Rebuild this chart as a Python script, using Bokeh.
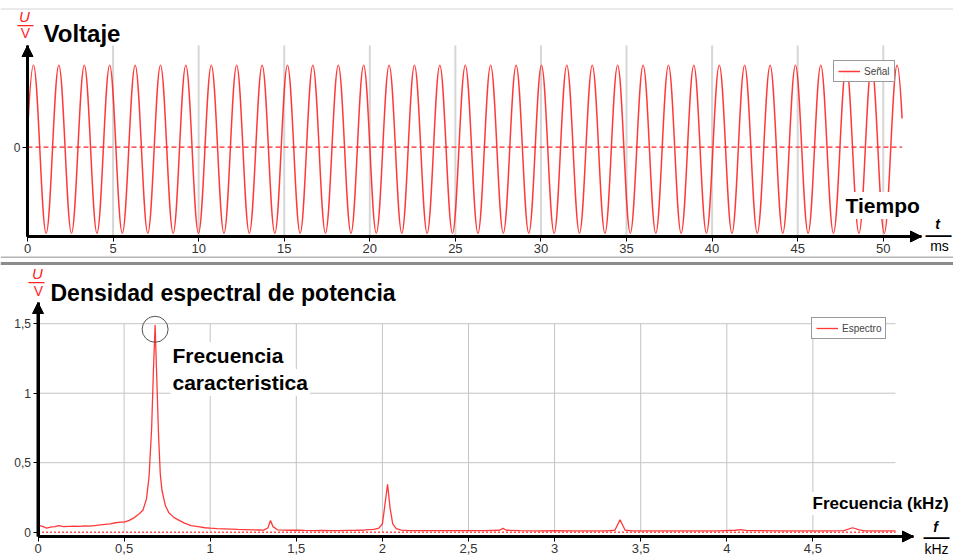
import numpy as np
from bokeh.plotting import figure
from bokeh.layouts import column
from bokeh.models import (FixedTicker, Label, Arrow, NormalHead, Legend, LegendItem,
                          Range1d, LinearAxis, Span, CustomJSTickFormatter)
from bokeh.embed import file_html
from bokeh.resources import INLINE

# ---------------- data: signal (top panel) ----------------
t_start_ms, v_start = 0.0, 0.16
peak_ms = [0.35, 1.83, 3.32, 4.80, 6.29, 7.77, 9.25, 10.74, 12.22, 13.71, 15.19, 16.67,
           18.16, 19.64, 21.13, 22.61, 24.09, 25.58, 27.06, 28.55, 30.03, 31.51, 33.00,
           34.48, 35.97, 37.45, 38.93, 40.42, 41.90, 43.39, 44.87, 46.35, 47.84, 49.32, 50.81]
trough_ms = [1.09, 2.57, 4.06, 5.54, 7.03, 8.51, 9.99, 11.48, 12.96, 14.45, 15.93, 17.41,
             18.90, 20.38, 21.87, 23.35, 24.83, 26.32, 27.80, 29.29, 30.77, 32.25, 33.74,
             35.22, 36.71, 38.19, 39.67, 41.16, 42.64, 44.13, 45.61, 47.09, 48.58, 50.06]
peak_level = 1.0
trough_level = -1.05
t_end_ms, v_end = 51.1, 0.35
time_ticks = [0, 5, 10, 15, 20, 25, 30, 35, 40, 45, 50]
time_tick_labels = ["0", "5", "10", "15", "20", "25", "30", "35", "40", "45", "50"]
volt_ticks = [0]
volt_tick_labels = ["0"]

# ---------------- data: spectrum (bottom panel) ----------------
freq_khz = [0.00, 0.01, 0.03, 0.05, 0.08, 0.10, 0.12, 0.15, 0.18, 0.21, 0.24, 0.27, 0.30,
            0.33, 0.36, 0.39, 0.42, 0.45, 0.48, 0.50, 0.53, 0.56, 0.59, 0.61, 0.63, 0.645,
            0.66, 0.67, 0.68, 0.69, 0.70, 0.71, 0.72, 0.74, 0.76, 0.79, 0.82, 0.85, 0.89,
            0.93, 0.97, 1.00, 1.04, 1.08, 1.12, 1.16, 1.20, 1.24, 1.28, 1.31, 1.335, 1.35,
            1.365, 1.39, 1.43, 1.47, 1.51, 1.55, 1.60, 1.65, 1.70, 1.75, 1.80, 1.85, 1.90,
            1.95, 1.98, 2.00, 2.015, 2.03, 2.045, 2.06, 2.08, 2.11, 2.15, 2.20, 2.30, 2.40,
            2.50, 2.60, 2.68, 2.70, 2.72, 2.80, 2.90, 3.00, 3.10, 3.20, 3.30, 3.35, 3.38,
            3.41, 3.45, 3.55, 3.65, 3.75, 3.85, 3.95, 4.05, 4.08, 4.12, 4.20, 4.30, 4.40,
            4.50, 4.60, 4.68, 4.73, 4.77, 4.80, 4.90, 4.98]
psd = [0.035, 0.048, 0.040, 0.030, 0.038, 0.040, 0.048, 0.040, 0.042, 0.044, 0.042, 0.046,
       0.044, 0.048, 0.052, 0.056, 0.060, 0.068, 0.072, 0.072, 0.085, 0.105, 0.135, 0.16,
       0.24, 0.40, 0.75, 1.15, 1.49, 1.10, 0.70, 0.42, 0.30, 0.19, 0.14, 0.105, 0.085,
       0.065, 0.048, 0.040, 0.032, 0.029, 0.026, 0.024, 0.022, 0.020, 0.019, 0.017, 0.016,
       0.015, 0.030, 0.085, 0.040, 0.017, 0.015, 0.014, 0.015, 0.013, 0.012, 0.013, 0.012,
       0.012, 0.013, 0.014, 0.016, 0.020, 0.030, 0.06, 0.20, 0.345, 0.17, 0.06, 0.025,
       0.015, 0.012, 0.012, 0.011, 0.012, 0.011, 0.012, 0.014, 0.027, 0.014, 0.011, 0.010,
       0.011, 0.010, 0.010, 0.010, 0.014, 0.089, 0.014, 0.010, 0.010, 0.009, 0.010, 0.009,
       0.010, 0.014, 0.018, 0.011, 0.012, 0.010, 0.010, 0.010, 0.010, 0.012, 0.032, 0.016,
       0.010, 0.010, 0.010]
freq_ticks = [0, 0.5, 1, 1.5, 2, 2.5, 3, 3.5, 4, 4.5]
freq_tick_labels = ["0", "0,5", "1", "1,5", "2", "2,5", "3", "3,5", "4", "4,5"]
psd_ticks = [0, 0.5, 1, 1.5]
psd_tick_labels = ["0", "0,5", "1", "1,5"]

RED = "#ff2424"
FONT = "Liberation Sans"
W = 953

LABEL_JS = """
const i = tv.findIndex(t => Math.abs(t - tick) < 1e-9);
return i >= 0 ? tl[i] : String(tick);
"""


def make_axis(tick_vals, tick_labels, fixed, bounds, size):
    ax = LinearAxis(fixed_location=fixed, bounds=bounds,
                    ticker=FixedTicker(ticks=tick_vals),
                    formatter=CustomJSTickFormatter(args=dict(tv=tick_vals, tl=tick_labels),
                                                    code=LABEL_JS))
    ax.axis_line_width = 3
    ax.axis_line_color = "black"
    ax.major_tick_line_color = "black"
    ax.major_tick_line_width = 1
    ax.major_tick_out = 5
    ax.major_tick_in = 0
    ax.minor_tick_line_color = None
    ax.major_label_text_font = FONT
    ax.major_label_text_font_size = size
    ax.major_label_text_color = "#333333"
    ax.major_label_standoff = 2
    return ax


def add_label(p, pos, text, size, color="black", style="bold", align="left", bg=None):
    p.add_layout(Label(x=pos[0], y=pos[1], text=text, text_font=FONT,
                       text_font_size=f"{size}px", text_font_style=style,
                       text_color=color, text_align=align, text_baseline="middle",
                       background_fill_color=bg, padding=2 if bg else 0))


head = dict(size=11, fill_color="black", line_color="black")


# ================= TOP PANEL (page y 0..258) =================
def tpos(px, py):
    return ((px - 27) / 17.115, (146.65 - py) / 81.97)


TOP_H = 258
tx_axis = (0.0, tpos(921, 0)[0])
ty_axis = (tpos(0, 236)[1], tpos(0, 45)[1])
top = figure(width=W, height=TOP_H,
             x_range=Range1d(tpos(0, 0)[0], tpos(W, 0)[0]),
             y_range=Range1d(tpos(0, TOP_H)[1], tpos(0, 0)[1]),
             x_axis_type=None, y_axis_type=None, title=None,
             output_backend="svg", toolbar_location=None, min_border=0,
             outline_line_color=None)
top.grid.visible = False
top.add_layout(make_axis(time_ticks, time_tick_labels, ty_axis[0], tx_axis, "13px"), "below")
top.add_layout(make_axis(volt_ticks, volt_tick_labels, tx_axis[0], ty_axis, "12px"), "left")

top.add_layout(Span(location=tpos(0, 8.5)[1], dimension="width", line_color="#d4d4d4",
                    line_width=1))
top.add_layout(Span(location=tpos(0, 257)[1], dimension="width", line_color="#b4b4b4",
                    line_width=2))

gx = time_ticks[1:]
top.segment(x0=gx, y0=[ty_axis[0]] * len(gx), x1=gx, y1=[ty_axis[1]] * len(gx),
            line_color="#d6d6d6", line_width=2)

pts = sorted([(t, peak_level) for t in peak_ms] + [(t, trough_level) for t in trough_ms])
pts = [(t_start_ms, v_start)] + pts + [(t_end_ms, v_end)]
K = 0.3642
bx0, by0, bx1, by1, bcx0, bcy0, bcx1, bcy1 = ([] for _ in range(8))
for i in range(len(pts) - 1):
    (ta, va), (tb, vb) = pts[i], pts[i + 1]
    dt = tb - ta
    c0 = (ta + dt / 3, va + (vb - va) * 0.6) if i == 0 else (ta + K * dt, va)
    c1 = (tb - dt / 3, vb + (va - vb) * 0.6) if i == len(pts) - 2 else (tb - K * dt, vb)
    bx0.append(ta); by0.append(va); bx1.append(tb); by1.append(vb)
    bcx0.append(c0[0]); bcy0.append(c0[1]); bcx1.append(c1[0]); bcy1.append(c1[1])

top.line(x=[t_start_ms, t_end_ms], y=[0, 0], line_color=RED, line_width=1.2, line_dash="5 3")
sig = top.bezier(x0=bx0, y0=by0, x1=bx1, y1=by1, cx0=bcx0, cy0=bcy0, cx1=bcx1, cy1=bcy1,
                 line_color=RED, line_width=1.5, line_alpha=0.9)

# legend location: canvas px from bottom-left (left edge 833, bottom edge page y 82)
top.add_layout(Legend(items=[LegendItem(label="Señal", renderers=[sig])],
                      location=(833, TOP_H - 82),
                      label_text_font=FONT, label_text_font_size="10px", padding=4, margin=0,
                      spacing=0, glyph_width=22, glyph_height=12, label_height=12,
                      label_standoff=4, border_line_color="#333333", border_line_width=1))

top.add_layout(Arrow(end=NormalHead(**head), x_start=tx_axis[0], y_start=ty_axis[0],
                     x_end=tx_axis[1], y_end=ty_axis[0], line_width=3, line_color="black"))
top.add_layout(Arrow(end=NormalHead(**head), x_start=tx_axis[0], y_start=ty_axis[0],
                     x_end=tx_axis[0], y_end=ty_axis[1], line_width=3, line_color="black"))

add_label(top, tpos(24, 16), "U", 15, color=RED, style="italic", align="center")
add_label(top, tpos(25, 24), "—", 16, color=RED, style="normal", align="center")
add_label(top, tpos(25, 32.5), "V", 14, color=RED, style="normal", align="center")
add_label(top, tpos(43, 33), "Voltaje", 24)
add_label(top, tpos(843, 205), "Tiempo", 21, bg="white")
add_label(top, tpos(937, 223), "t", 14, style="bold italic", align="center")
add_label(top, tpos(938, 233), "—", 26, style="normal", align="center")
add_label(top, tpos(939, 245), "ms", 14, style="normal", align="center")


# ================= BOTTOM PANEL (page y 258..556) =================
def bpos(px, py):
    return ((px - 37.5) / 172.2, (531.7 - py) / 139.0)


BOT_H = 298
bx_axis = (0.0, bpos(913, 0)[0])
by_axis = (bpos(0, 536)[1], bpos(0, 302)[1])
bot = figure(width=W, height=BOT_H,
             x_range=Range1d(bpos(0, 0)[0], bpos(W, 0)[0]),
             y_range=Range1d(bpos(0, TOP_H + BOT_H)[1], bpos(0, TOP_H)[1]),
             x_axis_type=None, y_axis_type=None, title=None,
             output_backend="svg", toolbar_location=None, min_border=0,
             outline_line_color=None)
bot.grid.visible = False
bot.add_layout(make_axis(freq_ticks, freq_tick_labels, by_axis[0], bx_axis, "13px"), "below")
bot.add_layout(make_axis(psd_ticks, psd_tick_labels, bx_axis[0], by_axis, "12px"), "left")

bot.add_layout(Span(location=bpos(0, 263)[1], dimension="width", line_color="#8c8c8c",
                    line_width=3))

gxf = freq_ticks[1:]
bot.segment(x0=gxf, y0=[0] * len(gxf), x1=gxf, y1=[max(psd_ticks)] * len(gxf),
            line_color="#c4c4c4", line_width=1)
gyf = psd_ticks[1:]
bot.segment(x0=[0] * len(gyf), y0=gyf, x1=[max(freq_khz)] * len(gyf), y1=gyf,
            line_color="#c4c4c4", line_width=1)

bot.line(x=[freq_khz[0], freq_khz[-1]], y=[0, 0], line_color=RED, line_width=1.5,
         line_dash="2 2", line_alpha=0.8)
spec = bot.line(x=freq_khz, y=psd, line_color=RED, line_width=1.3, line_alpha=0.9)

ipk = int(np.argmax(psd))
bot.scatter(x=[freq_khz[ipk]], y=[psd[ipk] - 0.03], marker="circle", size=26,
            fill_color=None, line_color="#555555", line_width=1)

# legend: left edge 811, bottom edge page y 339
bot.add_layout(Legend(items=[LegendItem(label="Espectro", renderers=[spec])],
                      location=(811, TOP_H + BOT_H - 339),
                      label_text_font=FONT, label_text_font_size="10px", padding=4, margin=0,
                      spacing=0, glyph_width=22, glyph_height=12, label_height=12,
                      label_standoff=4, border_line_color="#333333", border_line_width=1))

bot.add_layout(Arrow(end=NormalHead(**head), x_start=bx_axis[0], y_start=by_axis[0],
                     x_end=bx_axis[1], y_end=by_axis[0], line_width=3, line_color="black"))
bot.add_layout(Arrow(end=NormalHead(**head), x_start=bx_axis[0], y_start=by_axis[0],
                     x_end=bx_axis[0], y_end=by_axis[1], line_width=3, line_color="black"))

add_label(bot, bpos(37, 273), "U", 15, color=RED, style="italic", align="center")
add_label(bot, bpos(36, 281), "—", 16, color=RED, style="normal", align="center")
add_label(bot, bpos(38, 290), "V", 14, color=RED, style="normal", align="center")
add_label(bot, bpos(50, 292), "Densidad espectral de potencia", 23)
add_label(bot, bpos(170, 355), "Frecuencia", 21, bg="white")
add_label(bot, bpos(170, 382), "caracteristica", 21, bg="white")
add_label(bot, bpos(810, 503), "Frecuencia (kHz)", 17, bg="white")
add_label(bot, bpos(935, 526), "f", 14, style="bold italic", align="center")
add_label(bot, bpos(936, 535), "—", 26, style="normal", align="center")
add_label(bot, bpos(936, 548), "kHz", 14, style="normal", align="center")

layout = column(top, bot, spacing=0)
open("out.html", "w").write(file_html(layout, INLINE))
